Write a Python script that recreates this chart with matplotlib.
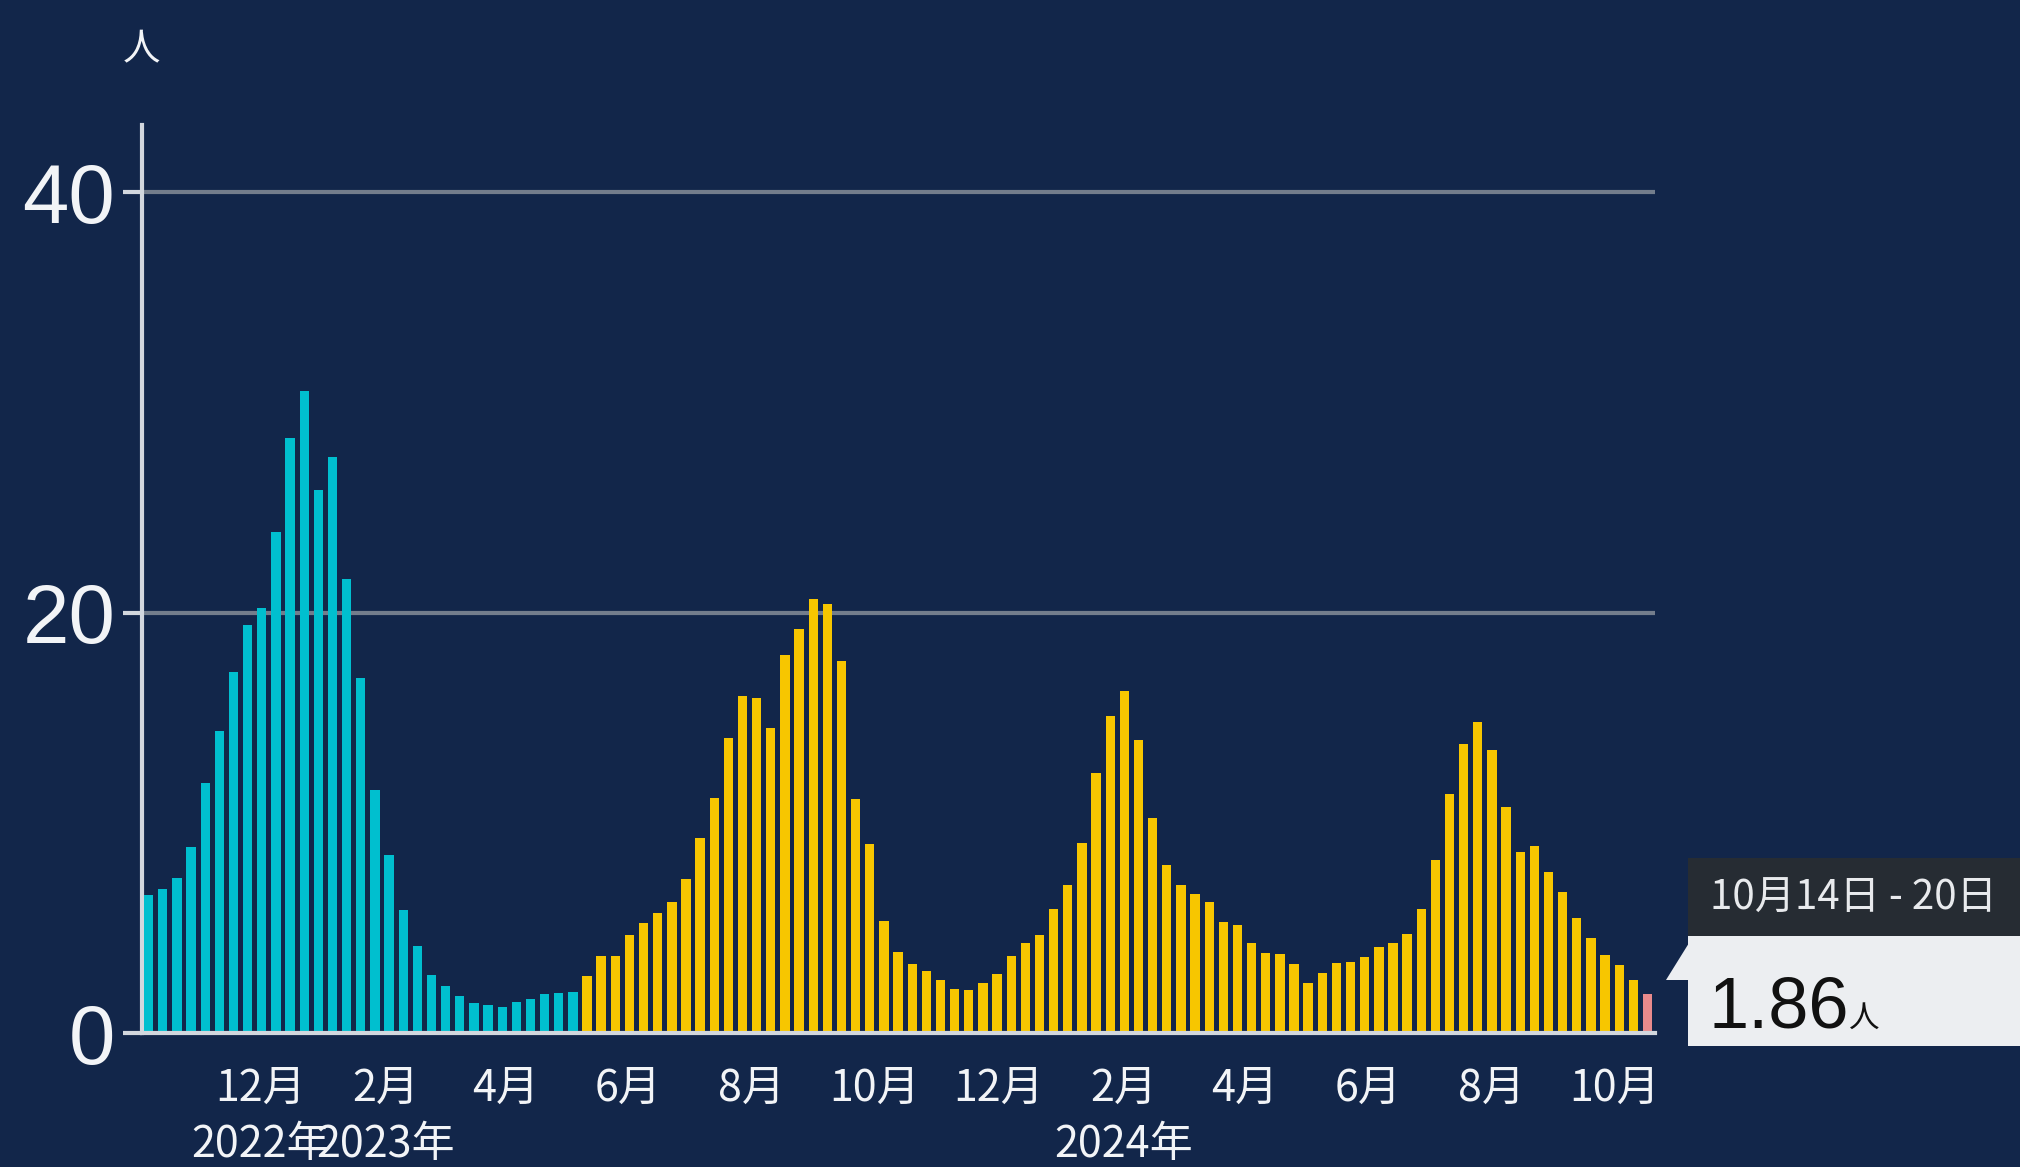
import matplotlib
matplotlib.use("Agg")
import matplotlib.pyplot as plt
import matplotlib.dates as mdates
import matplotlib.patches as mpatches
import pandas as pd
import numpy as np

# ---------------- data ----------------
first_week = "2022-10-03"
# weekly values (per medical institution), Oct 2022 – Oct 2024
values_before = [6.56, 6.86, 7.36, 8.87, 11.88, 14.38, 17.19, 19.40, 20.20, 23.81,
                 28.32, 30.53, 25.82, 27.42, 21.60, 16.89, 11.57, 8.47, 5.86, 4.15,
                 2.75, 2.25, 1.75, 1.44, 1.34, 1.24, 1.48, 1.64, 1.85, 1.89, 1.95]
values_after = [2.70, 3.65, 3.68, 4.68, 5.24, 5.71, 6.22, 7.33, 9.29, 11.19,
                14.05, 16.03, 15.95, 14.52, 17.97, 19.21, 20.63, 20.40, 17.70, 11.11,
                8.97, 5.32, 3.84, 3.30, 2.94, 2.54, 2.10, 2.03, 2.38, 2.83,
                3.65, 4.29, 4.68, 5.89, 7.05, 9.06, 12.37, 15.10, 16.25, 13.92,
                10.22, 8.00, 7.05, 6.62, 6.21, 5.30, 5.14, 4.30, 3.83, 3.76,
                3.29, 2.40, 2.84, 3.35, 3.40, 3.63, 4.08, 4.27, 4.71, 5.89,
                8.21, 11.38, 13.76, 14.78, 13.48, 10.75, 8.59, 8.90, 7.68, 6.73,
                5.47, 4.52, 3.73, 3.25, 2.54]
values_latest = [1.86]
latest_label = "10月14日 - 20日"
unit = "人"

tick_dates = ["2022-12-01", "2023-02-01", "2023-04-01", "2023-06-01", "2023-08-01",
              "2023-10-01", "2023-12-01", "2024-02-01", "2024-04-01", "2024-06-01",
              "2024-08-01", "2024-10-01"]
tick_labels = ["12月\n2022年", "2月\n2023年", "4月", "6月", "8月", "10月", "12月",
               "2月\n2024年", "4月", "6月", "8月", "10月"]
y_ticks = [0, 20, 40]

# ---------------- style ----------------
BG = "#12264a"
CYAN = "#00bfcf"
YELLOW = "#f7c600"
PINK = "#e98a8c"
GRID = "#737d8c"
AXIS = "#d2d7de"
TXT = "#f2f4f7"

plt.rcParams["font.family"] = ["Noto Sans CJK JP", "DejaVu Sans"]

fig = plt.figure(figsize=(20.2, 11.67), dpi=100, facecolor=BG)
ax = fig.add_axes([0.0701, 0.1148, 0.7490, 0.7782], facecolor=BG)

all_vals = values_before + values_after + values_latest
n = len(all_vals)
weeks = pd.date_range(first_week, periods=n, freq="7D")
centers = mdates.date2num(weeks) + 3.5
colors = [CYAN] * len(values_before) + [YELLOW] * len(values_after) + [PINK] * len(values_latest)

ax.bar(centers, all_vals, width=7 * 0.66, color=colors, zorder=3, linewidth=0)

x0 = mdates.date2num(weeks[0])
x1 = mdates.date2num(weeks[-1]) + 7
ax.set_xlim(x0, x1)
ax.set_ylim(0, 43.2)

for yv in y_ticks[1:]:
    ax.axhline(yv, color=GRID, lw=3, zorder=1)

for s in ["top", "right", "bottom"]:
    ax.spines[s].set_visible(False)
ax.spines["left"].set_color(AXIS)
ax.spines["left"].set_linewidth(3)
ax.axhline(0, color=AXIS, lw=3, zorder=4, clip_on=False)

ax.set_yticks(y_ticks)
ax.set_yticklabels([str(v) for v in y_ticks], family=["Liberation Sans", "DejaVu Sans"],
                   fontsize=60, color=TXT)
ax.tick_params(axis="y", length=14, width=3, color=AXIS, pad=5)

ax.set_xticks(mdates.date2num(pd.to_datetime(tick_dates)))
ax.set_xticklabels(tick_labels, fontsize=31, color=TXT, linespacing=1.36)
ax.tick_params(axis="x", length=0, pad=24)

# unit label
fig.text(0.0701, 0.957, unit, ha="center", va="center", fontsize=27, color=TXT)

# tooltip
hdr = mpatches.Rectangle((1688 / 2020, 1 - 936 / 1167), 1, (936 - 858) / 1167,
                         transform=fig.transFigure, facecolor="#262c33", edgecolor="none")
box = mpatches.Rectangle((1688 / 2020, 1 - 1046 / 1167), 1, (1046 - 936) / 1167,
                         transform=fig.transFigure, facecolor="#eceef1", edgecolor="none")
tri = mpatches.Polygon([(1666 / 2020, 1 - 980 / 1167), (1689 / 2020, 1 - 943 / 1167),
                        (1689 / 2020, 1 - 980 / 1167)], closed=True,
                       transform=fig.transFigure, facecolor="#eceef1", edgecolor="none")
for p in (hdr, box, tri):
    fig.patches.append(p)

fig.text(1710 / 2020, 1 - 898 / 1167, latest_label, ha="left", va="center",
         fontsize=29, color="#e8eaed")
fig.text(1708 / 2020, 1 - 1027 / 1167, f"{values_latest[-1]:.2f}", ha="left",
         va="baseline", fontsize=52, color="#111111",
         family=["Liberation Sans", "DejaVu Sans"])
fig.text(1849 / 2020, 1 - 1027 / 1167, unit, ha="left", va="baseline",
         fontsize=22, color="#111111")

fig.savefig("out.png", dpi=100, facecolor=BG)
